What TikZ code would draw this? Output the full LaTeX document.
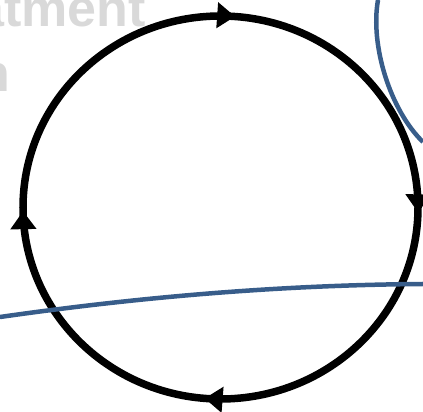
\documentclass[tikz,border=0pt]{standalone}
\usepackage{fontspec}
\setmainfont{Liberation Sans}
\usetikzlibrary{arrows.meta,decorations.markings}
\definecolor{bluecurve}{RGB}{56,93,138}
\definecolor{graytext}{RGB}{217,217,217}
\tikzset{
  cycleline/.style={line width=7.5pt, draw=black},
  bluearc/.style={line width=4.5pt, draw=bluecurve},
  fadedtext/.style={text=graytext, font=\fontsize{52}{62}\selectfont\bfseries, inner sep=0pt, anchor=base east},
  tip/.style={Triangle[length=18pt,width=25pt]}
}
\begin{document}
\begin{tikzpicture}[x=1pt,y=1pt]
\useasboundingbox (0,0) rectangle (423,412);
% faded text, partially cut off
\node[fadedtext] (t1) at (146,385) {atment};
\node[fadedtext] (t2) at (10,320) {n};
% cycle
\coordinate (c) at (220.5,204.5);
\draw[cycleline,
  decoration={markings,
    mark=at position 0.012 with {\arrow{Triangle[length=18pt,width=25pt]}},
    mark=at position 0.254 with {\arrow{Triangle[length=18pt,width=25pt]}},
    mark=at position 0.513 with {\arrow{Triangle[length=18pt,width=25pt]}},
    mark=at position 0.747 with {\arrow{Triangle[length=18pt,width=25pt]}}},
  postaction=decorate]
  (c) ++(0,191.5) arc[start angle=90, end angle=-270, x radius=197.5, y radius=191.5];
% blue curves
\coordinate (b1) at (0,95);
\coordinate (b2) at (423,128);
\draw[bluearc] (b1) .. controls (140,115) and (280,127) .. (b2);
\coordinate (e1) at (378,412);
\coordinate (e2) at (423,270);
\draw[bluearc] (e1) .. controls (370,367) and (390,302) .. (e2);
\end{tikzpicture}
\end{document}
